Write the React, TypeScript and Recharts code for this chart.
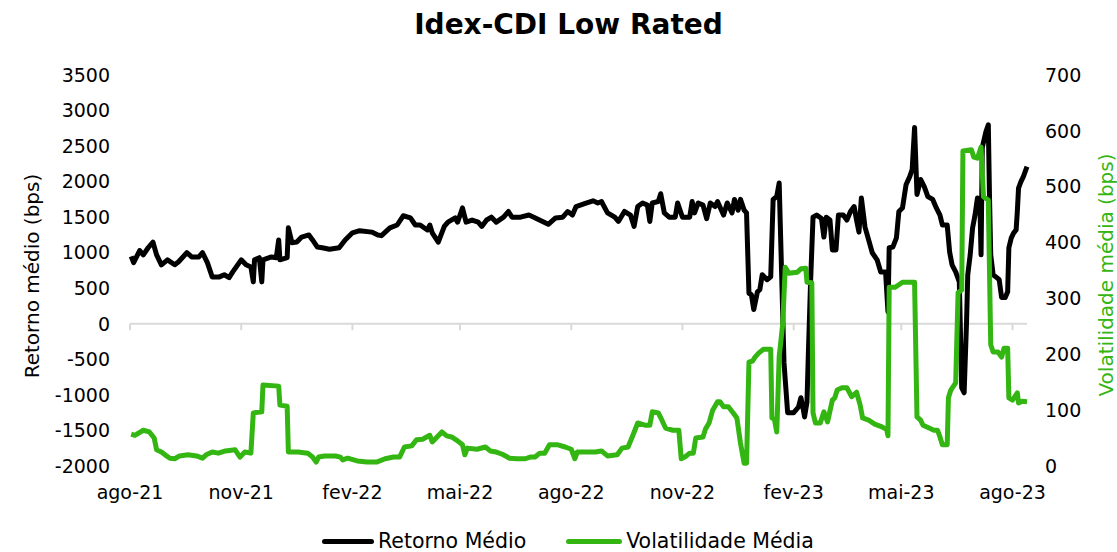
import { Line, LineChart, ReferenceLine, XAxis, YAxis } from "recharts";

const VERDE = "#33b512";

// Retorno médio (bps), eixo esquerdo
const retornoMedio: [string, number][] = [
  ["2021-08-02", 950], ["2021-08-04", 860], ["2021-08-09", 1030], ["2021-08-12", 970],
  ["2021-08-16", 1070], ["2021-08-20", 1150], ["2021-08-23", 970], ["2021-08-27", 830],
  ["2021-09-01", 900], ["2021-09-07", 830], ["2021-09-10", 870], ["2021-09-17", 1000],
  ["2021-09-21", 940], ["2021-09-27", 940], ["2021-09-30", 1000], ["2021-10-04", 860],
  ["2021-10-08", 660], ["2021-10-14", 660], ["2021-10-18", 690], ["2021-10-22", 650],
  ["2021-10-25", 730], ["2021-11-01", 900], ["2021-11-05", 830], ["2021-11-09", 800],
  ["2021-11-11", 590], ["2021-11-12", 900], ["2021-11-16", 930], ["2021-11-18", 590],
  ["2021-11-19", 900], ["2021-11-26", 940], ["2021-11-30", 930], ["2021-12-02", 1180],
  ["2021-12-03", 900], ["2021-12-09", 930], ["2021-12-10", 1350], ["2021-12-13", 1140],
  ["2021-12-17", 1150], ["2021-12-21", 1220], ["2021-12-27", 1250], ["2021-12-30", 1180],
  ["2022-01-03", 1080], ["2022-01-07", 1070], ["2022-01-13", 1050], ["2022-01-21", 1070],
  ["2022-01-26", 1180], ["2022-02-01", 1280], ["2022-02-07", 1310], ["2022-02-17", 1290],
  ["2022-02-22", 1250], ["2022-02-25", 1240], ["2022-03-04", 1350], ["2022-03-10", 1390],
  ["2022-03-15", 1520], ["2022-03-21", 1490], ["2022-03-25", 1390], ["2022-03-29", 1390],
  ["2022-04-04", 1320], ["2022-04-06", 1390], ["2022-04-08", 1280], ["2022-04-13", 1150],
  ["2022-04-18", 1370], ["2022-04-21", 1430], ["2022-04-27", 1490], ["2022-04-29", 1430],
  ["2022-05-03", 1630], ["2022-05-06", 1430], ["2022-05-11", 1460], ["2022-05-16", 1430],
  ["2022-05-19", 1370], ["2022-05-23", 1460], ["2022-05-27", 1500], ["2022-05-31", 1430],
  ["2022-06-06", 1500], ["2022-06-10", 1580], ["2022-06-13", 1500], ["2022-06-20", 1500],
  ["2022-06-27", 1530], ["2022-07-01", 1500], ["2022-07-07", 1450], ["2022-07-13", 1400],
  ["2022-07-19", 1490], ["2022-07-25", 1500], ["2022-07-29", 1580], ["2022-08-02", 1530],
  ["2022-08-05", 1650], ["2022-08-12", 1690], ["2022-08-19", 1730], ["2022-08-23", 1700],
  ["2022-08-26", 1720], ["2022-08-31", 1560], ["2022-09-06", 1500], ["2022-09-09", 1440],
  ["2022-09-14", 1580], ["2022-09-19", 1530], ["2022-09-22", 1370], ["2022-09-25", 1650],
  ["2022-09-29", 1700], ["2022-10-03", 1670], ["2022-10-05", 1440], ["2022-10-07", 1700],
  ["2022-10-12", 1720], ["2022-10-14", 1830], ["2022-10-17", 1560], ["2022-10-21", 1500],
  ["2022-10-26", 1500], ["2022-10-28", 1700], ["2022-11-01", 1500], ["2022-11-07", 1500],
  ["2022-11-09", 1720], ["2022-11-11", 1560], ["2022-11-14", 1700], ["2022-11-18", 1670],
  ["2022-11-21", 1480], ["2022-11-24", 1700], ["2022-11-28", 1650], ["2022-11-30", 1720],
  ["2022-12-05", 1530], ["2022-12-08", 1700], ["2022-12-12", 1560], ["2022-12-14", 1750],
  ["2022-12-17", 1600], ["2022-12-19", 1750], ["2022-12-22", 1600], ["2022-12-24", 1560],
  ["2022-12-26", 430], ["2022-12-28", 410], ["2022-12-30", 200], ["2023-01-02", 450],
  ["2023-01-04", 480], ["2023-01-06", 690], ["2023-01-10", 620], ["2023-01-13", 660],
  ["2023-01-15", 1750], ["2023-01-18", 1790], ["2023-01-20", 1980], ["2023-01-22", 720],
  ["2023-01-24", -550], ["2023-01-27", -1250], ["2023-02-01", -1250], ["2023-02-05", -1170],
  ["2023-02-07", -1040], ["2023-02-09", -1210], ["2023-02-10", -1310], ["2023-02-12", -1100],
  ["2023-02-13", -500], ["2023-02-15", 600], ["2023-02-17", 1500], ["2023-02-20", 1530],
  ["2023-02-24", 1480], ["2023-02-26", 1220], ["2023-02-28", 1500], ["2023-03-03", 1460],
  ["2023-03-05", 1040], ["2023-03-08", 1040], ["2023-03-10", 1530], ["2023-03-14", 1530],
  ["2023-03-17", 1460], ["2023-03-20", 1580], ["2023-03-23", 1650], ["2023-03-25", 1460],
  ["2023-03-27", 1290], ["2023-03-29", 1770], ["2023-04-01", 1360], ["2023-04-04", 1180],
  ["2023-04-07", 1000], ["2023-04-11", 900], ["2023-04-14", 730], ["2023-04-18", 730],
  ["2023-04-20", 170], ["2023-04-21", 1070], ["2023-04-24", 1080], ["2023-04-27", 1210],
  ["2023-04-29", 1580], ["2023-05-02", 1630], ["2023-05-05", 1960], ["2023-05-08", 2070],
  ["2023-05-10", 2170], ["2023-05-12", 2760], ["2023-05-14", 1820], ["2023-05-17", 2030],
  ["2023-05-20", 1930], ["2023-05-23", 1790], ["2023-05-27", 1750], ["2023-05-30", 1630],
  ["2023-06-02", 1530], ["2023-06-04", 1390], ["2023-06-08", 1390], ["2023-06-10", 1010],
  ["2023-06-12", 830], ["2023-06-15", 730], ["2023-06-18", 590], ["2023-06-20", -900],
  ["2023-06-22", -970], ["2023-06-24", 30], ["2023-06-25", 690], ["2023-06-27", 970],
  ["2023-06-29", 1350], ["2023-07-01", 1530], ["2023-07-03", 1770], ["2023-07-05", 1720],
  ["2023-07-06", 970], ["2023-07-07", 2480], ["2023-07-10", 2700], ["2023-07-12", 2800],
  ["2023-07-13", 1770], ["2023-07-14", 970], ["2023-07-16", 690], ["2023-07-19", 650],
  ["2023-07-21", 620], ["2023-07-23", 370], ["2023-07-26", 370], ["2023-07-28", 450],
  ["2023-07-29", 1070], ["2023-07-31", 1210], ["2023-08-02", 1280], ["2023-08-04", 1320],
  ["2023-08-05", 1580], ["2023-08-06", 1910], ["2023-08-08", 2000], ["2023-08-10", 2070],
  ["2023-08-13", 2210],
];

// Volatilidade média (bps), eixo direito
const volatilidadeMedia: [string, number][] = [
  ["2021-08-02", 57], ["2021-08-05", 55], ["2021-08-12", 64], ["2021-08-17", 61],
  ["2021-08-21", 50], ["2021-08-23", 29], ["2021-08-27", 25], ["2021-08-30", 20],
  ["2021-09-03", 14], ["2021-09-07", 13], ["2021-09-11", 18], ["2021-09-18", 20],
  ["2021-09-25", 18], ["2021-09-30", 14], ["2021-10-03", 20], ["2021-10-08", 25],
  ["2021-10-13", 23], ["2021-10-19", 27], ["2021-10-27", 29], ["2021-10-31", 16],
  ["2021-11-04", 25], ["2021-11-09", 23], ["2021-11-11", 95], ["2021-11-18", 97],
  ["2021-11-19", 145], ["2021-12-02", 143], ["2021-12-03", 109], ["2021-12-09", 107],
  ["2021-12-10", 25], ["2021-12-18", 25], ["2021-12-26", 23], ["2021-12-30", 16],
  ["2022-01-02", 7], ["2022-01-04", 16], ["2022-01-09", 18], ["2022-01-18", 18],
  ["2022-01-22", 16], ["2022-01-24", 11], ["2022-01-28", 14], ["2022-02-05", 9],
  ["2022-02-13", 7], ["2022-02-21", 7], ["2022-02-28", 13], ["2022-03-07", 16],
  ["2022-03-12", 16], ["2022-03-16", 34], ["2022-03-22", 36], ["2022-03-26", 47],
  ["2022-03-31", 48], ["2022-04-06", 55], ["2022-04-08", 43], ["2022-04-12", 52],
  ["2022-04-16", 61], ["2022-04-20", 54], ["2022-04-24", 52], ["2022-04-29", 45],
  ["2022-05-03", 38], ["2022-05-05", 20], ["2022-05-07", 32], ["2022-05-15", 30],
  ["2022-05-22", 34], ["2022-05-26", 27], ["2022-05-31", 25], ["2022-06-05", 21],
  ["2022-06-11", 14], ["2022-06-17", 13], ["2022-06-24", 13], ["2022-06-28", 16],
  ["2022-07-02", 16], ["2022-07-06", 23], ["2022-07-10", 23], ["2022-07-14", 38],
  ["2022-07-21", 38], ["2022-07-27", 34], ["2022-08-01", 30], ["2022-08-04", 13],
  ["2022-08-06", 25], ["2022-08-21", 25], ["2022-08-26", 27], ["2022-08-31", 18],
  ["2022-09-08", 20], ["2022-09-12", 32], ["2022-09-17", 34], ["2022-09-21", 55],
  ["2022-09-25", 77], ["2022-10-01", 73], ["2022-10-05", 73], ["2022-10-07", 97],
  ["2022-10-12", 95], ["2022-10-15", 82], ["2022-10-18", 68], ["2022-10-24", 64],
  ["2022-10-29", 64], ["2022-10-31", 13], ["2022-11-03", 16], ["2022-11-07", 23],
  ["2022-11-10", 23], ["2022-11-12", 50], ["2022-11-18", 52], ["2022-11-20", 66],
  ["2022-11-23", 77], ["2022-11-26", 100], ["2022-11-30", 115], ["2022-12-02", 115],
  ["2022-12-05", 106], ["2022-12-09", 106], ["2022-12-13", 95], ["2022-12-16", 86],
  ["2022-12-19", 41], ["2022-12-22", 5], ["2022-12-24", 5], ["2022-12-26", 186],
  ["2022-12-29", 188], ["2022-12-31", 195], ["2023-01-03", 202], ["2023-01-07", 209],
  ["2023-01-13", 209], ["2023-01-14", 86], ["2023-01-16", 84], ["2023-01-18", 61],
  ["2023-01-20", 195], ["2023-01-23", 256], ["2023-01-25", 356], ["2023-01-28", 345],
  ["2023-02-04", 347], ["2023-02-07", 353], ["2023-02-11", 354], ["2023-02-12", 329],
  ["2023-02-16", 328], ["2023-02-17", 95], ["2023-02-19", 77], ["2023-02-23", 77],
  ["2023-02-26", 97], ["2023-03-01", 79], ["2023-03-05", 118], ["2023-03-07", 122],
  ["2023-03-09", 136], ["2023-03-13", 140], ["2023-03-17", 140], ["2023-03-21", 124],
  ["2023-03-25", 132], ["2023-03-28", 109], ["2023-03-30", 86], ["2023-04-04", 82],
  ["2023-04-09", 75], ["2023-04-15", 70], ["2023-04-19", 65], ["2023-04-20", 54],
  ["2023-04-21", 320], ["2023-04-26", 320], ["2023-05-02", 329], ["2023-05-12", 329],
  ["2023-05-14", 88], ["2023-05-17", 82], ["2023-05-19", 73], ["2023-05-24", 68],
  ["2023-05-28", 64], ["2023-05-31", 64], ["2023-06-02", 52], ["2023-06-04", 38],
  ["2023-06-08", 38], ["2023-06-09", 122], ["2023-06-11", 136], ["2023-06-15", 149],
  ["2023-06-17", 310], ["2023-06-20", 315], ["2023-06-21", 564], ["2023-06-28", 566],
  ["2023-06-30", 553], ["2023-07-03", 551], ["2023-07-06", 571], ["2023-07-08", 482],
  ["2023-07-12", 476], ["2023-07-14", 217], ["2023-07-16", 204], ["2023-07-20", 204],
  ["2023-07-23", 195], ["2023-07-25", 211], ["2023-07-28", 211], ["2023-07-29", 122],
  ["2023-08-01", 118], ["2023-08-05", 131], ["2023-08-06", 113], ["2023-08-09", 116],
  ["2023-08-13", 115],
];

const ticksX = [
  "2021-08-01", "2021-11-01", "2022-02-01", "2022-05-01", "2022-08-01",
  "2022-11-01", "2023-02-01", "2023-05-01", "2023-08-01",
];
const rotulosX = [
  "ago-21", "nov-21", "fev-22", "mai-22", "ago-22",
  "nov-22", "fev-23", "mai-23", "ago-23",
];
const ticksEsq = [-2000, -1500, -1000, -500, 0, 500, 1000, 1500, 2000, 2500, 3000, 3500];
const ticksDir = [0, 100, 200, 300, 400, 500, 600, 700];
const inicio = "2021-08-01";
const fim = "2023-08-13";

type Ponto = { t: number; retorno?: number; volatilidade?: number };

const pontos = new Map<number, Ponto>();
for (const [d, v] of retornoMedio) {
  const t = Date.parse(d);
  pontos.set(t, { ...(pontos.get(t) ?? { t }), retorno: v });
}
for (const [d, v] of volatilidadeMedia) {
  const t = Date.parse(d);
  pontos.set(t, { ...(pontos.get(t) ?? { t }), volatilidade: v });
}
const data = [...pontos.values()].sort((a, b) => a.t - b.t);
const ticksMs = ticksX.map((d) => Date.parse(d));

const fonte = "DejaVu Sans";
const tickStyle = { fontSize: 19, fill: "#000", fontFamily: fonte };

export default function App() {
  return (
    <div style={{ position: "absolute", left: 0, top: 0, width: 1117, height: 552, fontFamily: fonte }}>
      <div
        style={{
          position: "absolute",
          left: 10,
          top: 11,
          width: 1117,
          textAlign: "center",
          fontSize: 28,
          lineHeight: "28px",
          fontWeight: 700,
          color: "#000",
        }}
      >
        Idex-CDI Low Rated
      </div>
      <div
        style={{
          position: "absolute",
          left: 32,
          top: 276,
          transform: "translate(-50%, -50%) rotate(-90deg)",
          whiteSpace: "nowrap",
          fontSize: 20,
          color: "#000",
        }}
      >
        Retorno médio (bps)
      </div>
      <div
        style={{
          position: "absolute",
          left: 1106,
          top: 275,
          transform: "translate(-50%, -50%) rotate(-90deg)",
          whiteSpace: "nowrap",
          fontSize: 20,
          color: VERDE,
        }}
      >
        Volatilidade média (bps)
      </div>

      <LineChart width={1117} height={552} data={data} margin={{ top: 75, right: 0, bottom: 0, left: 0 }}>
        <XAxis
          dataKey="t"
          type="number"
          domain={[Date.parse(inicio), Date.parse(fim)]}
          ticks={ticksMs}
          interval={0}
          tickFormatter={(t) => rotulosX[ticksMs.indexOf(t)] ?? ""}
          axisLine={false}
          tickLine={false}
          tickSize={6}
          tickMargin={14}
          height={86}
          tick={tickStyle}
        />
        <YAxis
          yAxisId="esq"
          domain={[-2000, 3500]}
          ticks={ticksEsq}
          interval={0}
          axisLine={false}
          tickLine={false}
          tickSize={6}
          tickMargin={14}
          width={130}
          tick={tickStyle}
        />
        <YAxis
          yAxisId="dir"
          orientation="right"
          domain={[0, 700]}
          ticks={ticksDir}
          interval={0}
          axisLine={false}
          tickLine={false}
          tickSize={6}
          tickMargin={12}
          width={90}
          tick={tickStyle}
        />
        <ReferenceLine yAxisId="esq" y={0} stroke="#d9d9d9" strokeWidth={2} />
        {ticksMs.map((t) => (
          <ReferenceLine
            key={t}
            yAxisId="esq"
            segment={[
              { x: t, y: 0 },
              { x: t, y: -90 },
            ]}
            stroke="#d9d9d9"
            strokeWidth={2}
          />
        ))}
        <Line
          yAxisId="esq"
          dataKey="retorno"
          type="linear"
          stroke="#000"
          strokeWidth={5}
          strokeLinejoin="round"
          dot={false}
          connectNulls
          isAnimationActive={false}
        />
        <Line
          yAxisId="dir"
          dataKey="volatilidade"
          type="linear"
          stroke={VERDE}
          strokeWidth={5}
          strokeLinejoin="round"
          dot={false}
          connectNulls
          isAnimationActive={false}
        />
      </LineChart>

      <div
        style={{
          position: "absolute",
          left: 322,
          top: 529,
          display: "flex",
          alignItems: "center",
          fontSize: 20.5,
          color: "#000",
          whiteSpace: "nowrap",
        }}
      >
        <span style={{ display: "inline-block", width: 52, height: 5, borderRadius: 3, background: "#000" }} />
        <span style={{ marginLeft: 4 }}>Retorno Médio</span>
        <span
          style={{ display: "inline-block", width: 56, height: 5, borderRadius: 3, background: VERDE, marginLeft: 40 }}
        />
        <span style={{ marginLeft: 4 }}>Volatilidade Média</span>
      </div>
    </div>
  );
}
